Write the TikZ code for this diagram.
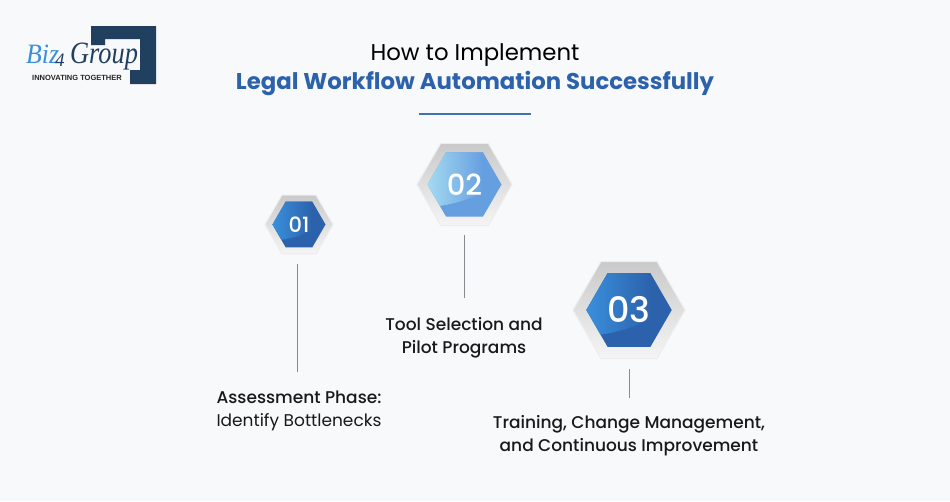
\documentclass[tikz,border=0pt]{standalone}
\usepackage{fontspec}
\setmainfont{Poppins}
\newfontfamily\medfont{Poppins Medium}
\newfontfamily\logofont{Liberation Serif}
\newfontfamily\tagfont{Liberation Sans}
\definecolor{pagebg}{HTML}{F8F9FB}
\definecolor{navy}{HTML}{213F5E}
\definecolor{titleblue}{HTML}{2C62AC}
\definecolor{logoblue}{HTML}{3A8FDC}
\definecolor{stemgray}{HTML}{8A8A8E}
\definecolor{hextwo}{HTML}{659FE0}
\definecolor{hextwoglow}{HTML}{A5DAF1}
\tikzset{
  titletext/.style={inner sep=0pt, font=\fontsize{22.8}{25}\selectfont},
  labeltext/.style={inner sep=0pt, align=center, text=black!90, font=\fontsize{17}{23}\selectfont\medfont},
  stem/.style={draw=stemgray, line width=1pt},
  badgenum/.style={inner sep=0pt, text=white}
}
\begin{document}
\begin{tikzpicture}[x=1pt,y=-1pt]
%hexagon badge: name, x, y, outer radius, inner radius, dark colour, light colour, number, font size
\newcommand*{\HexPath}[1]{(0:#1) -- (60:#1) -- (120:#1) -- (180:#1) -- (240:#1) -- (300:#1) -- cycle}
\newcommand*{\HexBadge}[9]{
\begin{scope}[shift={(#2,#3)}]
\shade[top color=black!21, bottom color=black!4, draw=black!7, line width=1pt] \HexPath{#4};
\begin{scope}
\clip \HexPath{#5};
\fill[#6] (-#5,-#5) rectangle (#5,#5);
\clip (-#5,0.62*#5) .. controls (-0.3*#5,0.55*#5) and (0.3*#5,0.4*#5) .. (#5,-0.1*#5) -- (#5,-#5) -- (-#5,-#5) -- cycle;
\shade[left color=#7, right color=#6] (-#5,-#5) rectangle (0.5*#5,#5);
\end{scope}
\end{scope}
\node[badgenum, font=\fontsize{#9}{#9}\selectfont\medfont] (#1) at (#2,#3) {#8};
}
%page
\path[use as bounding box, fill=pagebg] (0,0) rectangle (950,501);
%logo
\fill[navy] (91,26) -- (156,26) -- (156,84) -- (130,84) -- (130,70) -- (140,70) -- (140,39) -- (105,39) -- (105,45) -- (91,45) -- cycle;
\node[inner sep=0pt, anchor=base west, xscale=.92] (logobiz) at (26,63) {\fontsize{28}{28}\logofont\itshape\textcolor{logoblue}{Biz}};
\node[inner sep=0pt, anchor=base west] (logofour) at (55,66) {\fontsize{19}{19}\logofont\itshape\textcolor{navy}{4}};
\node[inner sep=0pt, anchor=base west, xscale=.85] (logogroup) at (70,63) {\fontsize{31}{31}\logofont\itshape\textcolor{navy}{Group}};
\node[inner sep=0pt, text=black!85] (logotag) at (77,78) {\fontsize{7.5}{8}\tagfont\bfseries INNOVATING TOGETHER};
%title
\node[titletext, text=black] (titletop) at (475,55) {How to Implement};
\node[titletext, text=titleblue] (titlemain) at (475,84) {\bfseries Legal Workflow Automation Successfully};
\coordinate (ruleleft) at (419,114);
\coordinate (ruleright) at (531,114);
\draw[draw=titleblue!90, line width=1.4pt] (ruleleft) -- (ruleright);
%badges
\HexBadge{badgeone}{299}{224.5}{34}{26.5}{titleblue}{logoblue}{01}{21}
\HexBadge{badgetwo}{464.5}{184.5}{47.5}{37}{hextwo}{hextwoglow}{02}{29}
\HexBadge{badgethree}{629}{310}{56}{42.7}{titleblue}{logoblue}{03}{35}
%stems
\coordinate (stemonetop) at (297.5,264);
\coordinate (stemonebot) at (297.5,372);
\coordinate (stemtwotop) at (464,235);
\coordinate (stemtwobot) at (464,298);
\coordinate (stemthreetop) at (629,369);
\coordinate (stemthreebot) at (629,398);
\draw[stem] (stemonetop) -- (stemonebot);
\draw[stem] (stemtwotop) -- (stemtwobot);
\draw[stem] (stemthreetop) -- (stemthreebot);
%labels
\node[labeltext] (labelone) at (299,410.5) {Assessment Phase:\\{\rmfamily Identify Bottlenecks}};
\node[labeltext] (labeltwo) at (464,337.5) {Tool Selection and\\Pilot Programs};
\node[labeltext] (labelthree) at (629,435.5) {Training, Change Management,\\and Continuous Improvement};
\end{tikzpicture}
\end{document}
